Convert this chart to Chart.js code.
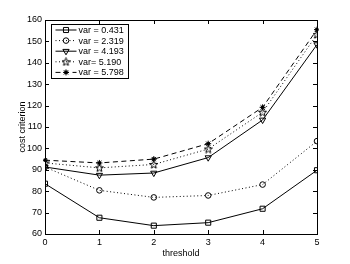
<!DOCTYPE html>
<html>
<head>
<meta charset="utf-8">
<script src="https://cdn.jsdelivr.net/npm/chart.js@4"></script>
<style>
  html, body { margin: 0; padding: 0; background: #fff; }
  #wrap { width: 350px; height: 264px; position: relative; }
</style>
</head>
<body>
<div id="wrap"><canvas id="grafica"></canvas></div>
<script>
// datos
const umbrales = [0, 1, 2, 3, 4, 5];
const var0431 = [83.5, 67.6, 63.9, 65.3, 71.8, 89.8];
const var2319 = [91.3, 80.4, 77.1, 78.0, 83.1, 103.4];
const var4193 = [91.3, 87.5, 88.5, 95.7, 113.3, 148.5];
const var5190 = [93.2, 90.9, 92.5, 99.7, 116.9, 153.2];
const var5798 = [94.5, 93.2, 95.0, 102.2, 119.2, 155.5];
const etiquetas = ['var = 0.431', 'var = 2.319', 'var = 4.193', 'var= 5.190', 'var = 5.798'];
const yTicks = [60, 70, 80, 90, 100, 110, 120, 130, 140, 150, 160];

const fuente = '"Liberation Sans", Arial, sans-serif';

// estrella de 5 puntas (pentagrama) para la serie var= 5.190
function crearEstrella() {
    const c = document.createElement('canvas');
    c.width = 9; c.height = 9;
    const g = c.getContext('2d');
    g.strokeStyle = '#000';
    g.lineWidth = 1;
    g.beginPath();
    for (let i = 0; i < 10; i++) {
        const r = i % 2 === 0 ? 4.2 : 1.8;
        const a = -Math.PI / 2 + i * Math.PI / 5;
        const px = 4.5 + r * Math.cos(a);
        const py = 4.8 + r * Math.sin(a);
        if (i === 0) g.moveTo(px, py); else g.lineTo(px, py);
    }
    g.closePath();
    g.stroke();
    return c;
}
const estrella = crearEstrella();

const aPuntos = arr => arr.map((v, i) => ({ x: umbrales[i], y: v }));

const series = [
    { label: etiquetas[0], data: aPuntos(var0431), pointStyle: 'rect', pointRadius: 3.6, dash: [] },
    { label: etiquetas[1], data: aPuntos(var2319), pointStyle: 'circle', pointRadius: 2.8, dash: [1, 2.5] },
    { label: etiquetas[2], data: aPuntos(var4193), pointStyle: 'triangle', pointRadius: 3.6, rot: 180, dash: [] },
    { label: etiquetas[3], data: aPuntos(var5190), pointStyle: estrella, pointRadius: 4, dash: [1, 2.5] },
    { label: etiquetas[4], data: aPuntos(var5798), pointStyle: 'star', pointRadius: 3, dash: [5, 3.5], relleno: true }
];

const datasets = series.map(s => ({
    label: s.label,
    data: s.data,
    borderColor: '#000',
    borderWidth: 1,
    borderDash: s.dash,
    pointStyle: s.pointStyle,
    pointRadius: s.pointRadius,
    pointRotation: s.rot || 0,
    pointBorderColor: '#000',
    pointBackgroundColor: 'rgba(0,0,0,0)',
    pointBorderWidth: 1,
    tension: 0,
    fill: false,
    relleno: s.relleno || false
}));

// marco y marcas hacia adentro estilo matlab, mas la leyenda
const marcoPlugin = {
    id: 'marco',
    afterDatasetsDraw(chart) {
        const { ctx, chartArea: a, scales } = chart;
        ctx.save();
        // puntos rellenos de la serie con asterisco
        chart.data.datasets.forEach((ds, i) => {
            if (!ds.relleno) return;
            chart.getDatasetMeta(i).data.forEach(p => {
                ctx.beginPath();
                ctx.arc(p.x, p.y, 1.8, 0, Math.PI * 2);
                ctx.fillStyle = '#000';
                ctx.fill();
            });
        });
        ctx.strokeStyle = '#000';
        ctx.lineWidth = 1;
        ctx.setLineDash([]);
        ctx.strokeRect(a.left + 0.5, a.top + 0.5, a.right - a.left, a.bottom - a.top);
        const t = 4;
        ctx.beginPath();
        umbrales.forEach(v => {
            const x = Math.round(scales.x.getPixelForValue(v)) + 0.5;
            ctx.moveTo(x, a.bottom); ctx.lineTo(x, a.bottom - t);
            ctx.moveTo(x, a.top); ctx.lineTo(x, a.top + t);
        });
        yTicks.forEach(v => {
            const y = Math.round(scales.y.getPixelForValue(v)) + 0.5;
            ctx.moveTo(a.left, y); ctx.lineTo(a.left + t, y);
            ctx.moveTo(a.right, y); ctx.lineTo(a.right - t, y);
        });
        ctx.stroke();

        // leyenda
        const lx = a.left + 6.5, ly = a.top + 4.5, lw = 77, lh = 54;
        ctx.fillStyle = '#fff';
        ctx.fillRect(lx, ly, lw, lh);
        ctx.strokeRect(lx, ly, lw, lh);
        ctx.font = '9px ' + fuente;
        ctx.textBaseline = 'middle';
        chart.data.datasets.forEach((ds, i) => {
            const y = ly + 5.5 + i * 10.6;
            ctx.beginPath();
            ctx.setLineDash(ds.borderDash);
            ctx.moveTo(lx + 4, y);
            ctx.lineTo(lx + 25, y);
            ctx.stroke();
            ctx.setLineDash([]);
            ctx.fillStyle = 'rgba(0,0,0,0)';
            Chart.helpers.drawPoint(ctx, {
                pointStyle: ds.pointStyle,
                rotation: ds.pointRotation,
                radius: ds.pointRadius,
                borderWidth: 1
            }, lx + 14.5, y);
            if (ds.relleno) {
                ctx.beginPath();
                ctx.arc(lx + 14.5, y, 1.8, 0, Math.PI * 2);
                ctx.fillStyle = '#000';
                ctx.fill();
            }
            ctx.fillStyle = '#000';
            ctx.fillText(ds.label, lx + 27, y + 0.5);
        });
        ctx.restore();
    }
};

new Chart(document.getElementById('grafica'), {
    type: 'line',
    data: { datasets },
    options: {
        responsive: true,
        maintainAspectRatio: false,
        animation: false,
        layout: { padding: { top: 20, right: 33, left: 0, bottom: 0 } },
        plugins: { legend: { display: false }, tooltip: { enabled: false } },
        scales: {
            x: {
                type: 'linear',
                min: 0, max: 5,
                afterBuildTicks: s => { s.ticks = umbrales.map(v => ({ value: v })); },
                afterFit: s => { s.height = 30; },
                grid: { display: false, drawTicks: false },
                border: { display: false },
                ticks: { color: '#000', font: { family: fuente, size: 9 }, padding: 3, maxRotation: 0 },
                title: { display: true, text: 'threshold', color: '#000', font: { family: fuente, size: 9 }, padding: { top: 5, bottom: 5 } }
            },
            y: {
                min: 60, max: 160,
                afterBuildTicks: s => { s.ticks = yTicks.map(v => ({ value: v })); },
                afterFit: s => { s.width = 45; },
                grid: { display: false, drawTicks: false },
                border: { display: false },
                ticks: { color: '#000', font: { family: fuente, size: 9 }, padding: 3 },
                title: { display: true, text: 'cost criterion', color: '#000', font: { family: fuente, size: 9 }, padding: { top: 17, bottom: 17 } }
            }
        }
    },
    plugins: [marcoPlugin]
});
</script>
</body>
</html>
